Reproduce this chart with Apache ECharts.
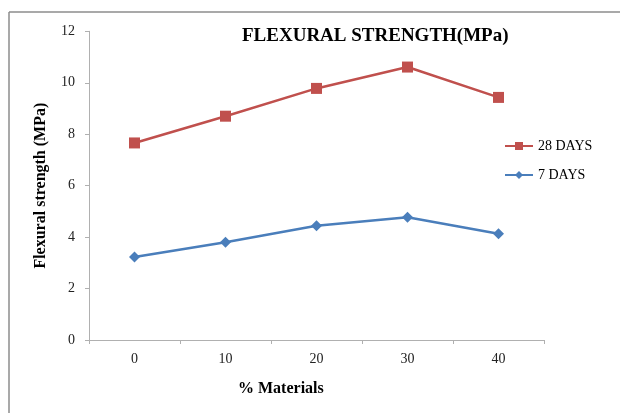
<!DOCTYPE html>
<html><head><meta charset="utf-8">
<script src="https://cdn.jsdelivr.net/npm/echarts@6/dist/echarts.min.js"></script>
<style>html,body{margin:0;padding:0;background:#fff}#c{width:620px;height:413px}</style>
</head><body><div id="c"></div>
<script>
const categories = ['0', '10', '20', '30', '40'];
const days28 = [7.66, 8.70, 9.78, 10.61, 9.43];
const days7 = [3.23, 3.80, 4.44, 4.77, 4.13];
const seriesNames = ['28 DAYS', '7 DAYS'];
const titleText = 'FLEXURAL STRENGTH(MPa)';
const xName = '% Materials';
const yName = 'Flexural strength (MPa)';

const serif = '"Liberation Serif", "DejaVu Serif", serif';
const chart = echarts.init(document.getElementById('c'));
chart.setOption({
  animation: false,
  backgroundColor: '#fff',
  graphic: [
    {type: 'line', shape: {x1: 9, y1: 12, x2: 9, y2: 420}, style: {stroke: '#8c8c8c', lineWidth: 1.5}},
    {type: 'line', shape: {x1: 9, y1: 12, x2: 630, y2: 12}, style: {stroke: '#8c8c8c', lineWidth: 1.5}},
    {type: 'text', left: 242, top: 27, style: {text: titleText, font: 'bold 19px ' + serif, fill: '#000'}},
    {type: 'text', left: 238, top: 381, style: {text: xName, font: 'bold 16px ' + serif, fill: '#000'}}
  ],
  grid: {left: 89, top: 31.3, width: 455, height: 308.7, containLabel: false},
  legend: {
    orient: 'vertical', left: 499, top: 134, itemGap: 15, itemWidth: 28, itemHeight: 10,
    textStyle: {fontFamily: serif, fontSize: 14, color: '#000'},
    data: seriesNames
  },
  xAxis: {
    type: 'category', data: categories, boundaryGap: true,
    axisLine: {lineStyle: {color: '#b0b0b0', width: 1}},
    axisTick: {show: true, alignWithLabel: false, length: 4, lineStyle: {color: '#b0b0b0'}},
    axisLabel: {fontFamily: serif, fontSize: 14, color: '#222', margin: 12},
    splitLine: {show: false}
  },
  yAxis: {
    type: 'value', min: 0, max: 12, interval: 2,
    name: yName, nameLocation: 'middle', nameGap: 40, nameRotate: 90,
    nameTextStyle: {fontFamily: serif, fontSize: 16, fontWeight: 'bold', color: '#000'},
    axisLine: {show: true, lineStyle: {color: '#b0b0b0', width: 1}},
    axisTick: {show: true, length: 4, lineStyle: {color: '#b0b0b0'}},
    axisLabel: {fontFamily: serif, fontSize: 14, color: '#222', margin: 14},
    splitLine: {show: false}
  },
  series: [
    {name: seriesNames[0], type: 'line', data: days28, symbol: 'rect', symbolSize: 11,
     lineStyle: {color: '#c0504d', width: 2.5}, itemStyle: {color: '#c0504d'}},
    {name: seriesNames[1], type: 'line', data: days7, symbol: 'diamond', symbolSize: 11,
     lineStyle: {color: '#4a7ebb', width: 2.5}, itemStyle: {color: '#4a7ebb'}}
  ]
});
</script></body></html>
